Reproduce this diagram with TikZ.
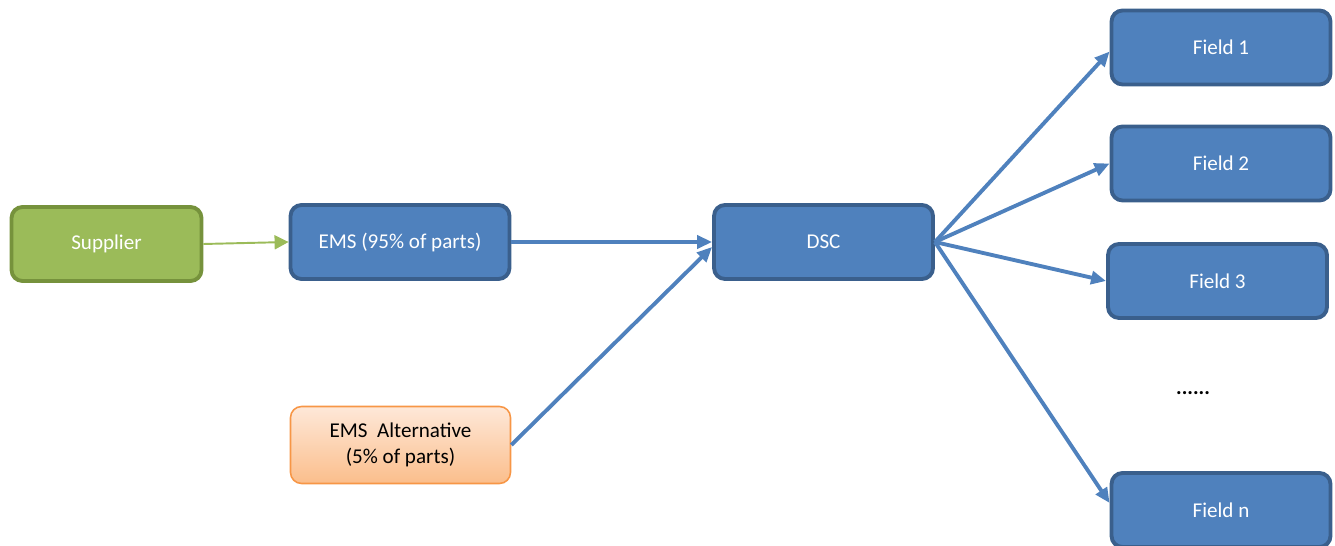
\documentclass[tikz,border=0pt]{standalone}
\usepackage{fontspec}
\setmainfont{Carlito}
\usetikzlibrary{arrows.meta}
\definecolor{boxblue}{HTML}{4F81BD}
\definecolor{lineblue}{HTML}{3A5F8C}
\definecolor{boxgreen}{HTML}{9BBB59}
\definecolor{linegreen}{HTML}{76923C}
\definecolor{alttop}{HTML}{FEE8D9}
\definecolor{altbottom}{HTML}{FBBE8C}
\definecolor{linealt}{HTML}{F79646}
\tikzset{
	flowbox/.style={rounded corners=0.22cm, line width=2.2pt, minimum height=1.48cm, align=center, font=\fontsize{12}{15}\selectfont},
	bluebox/.style={flowbox, draw=lineblue, fill=boxblue, text=white, minimum width=4.38cm},
	greenbox/.style={flowbox, draw=linegreen, fill=boxgreen, text=white, minimum width=3.8cm},
	altbox/.style={flowbox, draw=linealt, line width=0.9pt, top color=alttop, bottom color=altbottom, text=black, minimum width=4.4cm, minimum height=1.54cm},
	bluearrow/.style={draw=boxblue, line width=2.2pt, -{Triangle[length=0.3cm, width=0.26cm]}},
	greenarrow/.style={draw=boxgreen, line width=1.1pt, -{Triangle[length=0.28cm, width=0.28cm]}}
}
\begin{document}
\begin{tikzpicture}[x=0.02cm, y=-0.02cm]
	\useasboundingbox (0,0) rectangle (1335,546);
	\node[greenbox] (supplier) at (106.5,244) {Supplier};
	\node[bluebox] (ems) at (400,242) {EMS (95\% of parts)};
	\node[altbox] (alt) at (400.5,445) {EMS~ Alternative\\(5\% of parts)};
	\node[bluebox] (dsc) at (823.5,242) {DSC};
	\node[bluebox] (f1) at (1221,47.5) {Field 1};
	\node[bluebox] (f2) at (1221,163.5) {Field 2};
	\node[bluebox] (f3) at (1217.5,281) {Field 3};
	\node[bluebox] (fn) at (1221,510) {Field n};
	\node[font=\fontsize{12}{15}\selectfont] (dots) at (1193,393) {\textbf{......}};
	\draw[greenarrow] (supplier.east) -- (ems.west);
	\draw[bluearrow] (ems.east) -- (dsc.west);
	\draw[bluearrow] (alt.east) -- ([yshift=-0.1cm]dsc.west);
	\draw[bluearrow] (dsc.east) -- ([yshift=-0.08cm]f1.west);
	\draw[bluearrow] (dsc.east) -- (f2.west);
	\draw[bluearrow] (dsc.east) -- (f3.west);
	\draw[bluearrow] (dsc.east) -- ([yshift=0.14cm]fn.west);
\end{tikzpicture}
\end{document}
